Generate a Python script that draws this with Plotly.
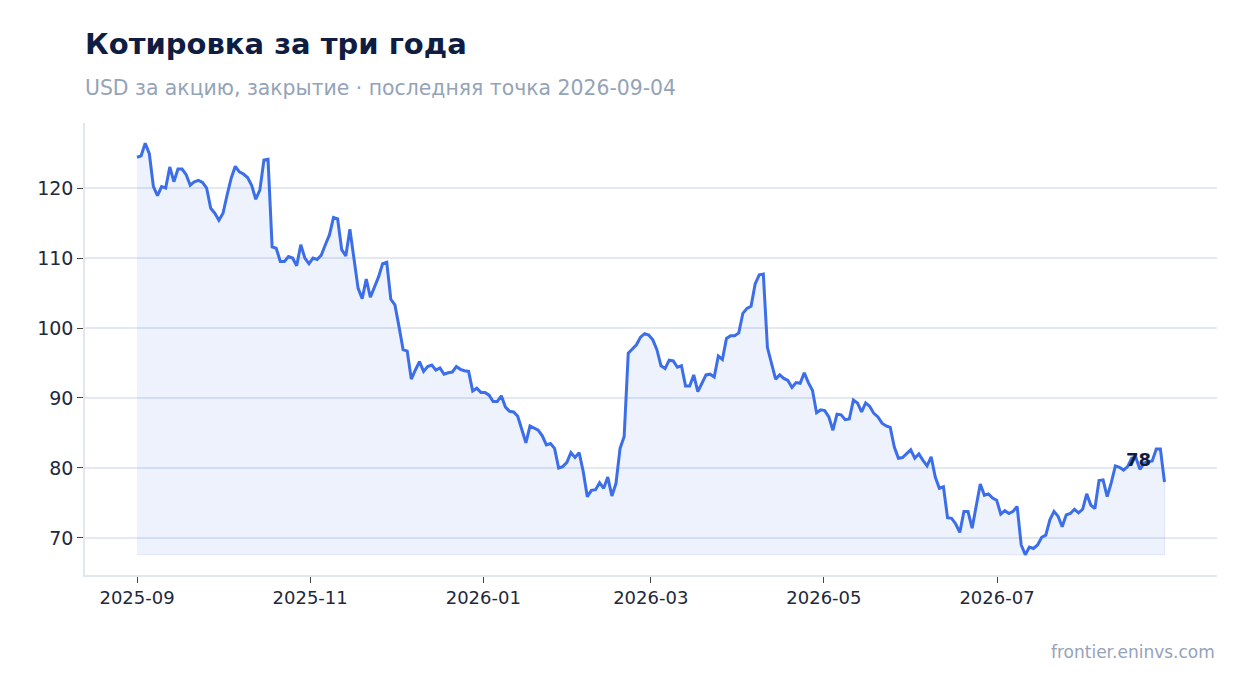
import pandas as pd
import plotly.graph_objects as go

# closing prices, evenly spaced from the first to the last session
first_day = "2025-09-01"
last_day = "2026-08-29"
close = [
    124.4, 124.6, 126.4, 124.9, 120.2, 118.9, 120.2, 120.0, 123.0, 120.9,
    122.7, 122.7, 121.9, 120.4, 120.9, 121.1, 120.8, 120.0, 117.1, 116.4,
    115.4, 116.4, 119.0, 121.4, 123.1, 122.3, 122.0, 121.5, 120.4, 118.4,
    119.7, 124.0, 124.1, 111.6, 111.4, 109.5, 109.5, 110.2, 110.0, 108.9,
    111.9, 110.0, 109.2, 110.0, 109.8, 110.4, 111.9, 113.3, 115.8, 115.6,
    111.2, 110.3, 114.1, 110.2, 105.7, 104.2, 107.0, 104.4, 105.9, 107.3,
    109.2, 109.4, 104.1, 103.3, 100.2, 96.9, 96.7, 92.7, 94.0, 95.2,
    93.8, 94.5, 94.7, 94.0, 94.3, 93.4, 93.6, 93.7, 94.5, 94.1,
    93.9, 93.8, 91.0, 91.4, 90.8, 90.8, 90.4, 89.5, 89.5, 90.3,
    88.7, 88.1, 88.0, 87.4, 85.5, 83.6, 86.0, 85.7, 85.4, 84.6,
    83.3, 83.5, 82.8, 80.0, 80.2, 80.8, 82.2, 81.5, 82.2, 79.5,
    75.9, 76.8, 76.9, 77.9, 77.1, 78.7, 76.0, 77.8, 82.8, 84.5,
    96.4, 97.0, 97.6, 98.7, 99.2, 99.0, 98.3, 96.9, 94.6, 94.2,
    95.4, 95.3, 94.4, 94.6, 91.7, 91.7, 93.3, 90.9, 92.2, 93.3,
    93.4, 93.0, 96.0, 95.5, 98.5, 98.9, 98.9, 99.3, 102.1, 102.8,
    103.1, 106.3, 107.6, 107.7, 97.2, 94.9, 92.7, 93.3, 92.8, 92.5,
    91.5, 92.2, 92.1, 93.6, 92.2, 91.1, 87.9, 88.3, 88.2, 87.3,
    85.4, 87.7, 87.6, 86.9, 87.0, 89.7, 89.3, 88.0, 89.3, 88.8,
    87.8, 87.3, 86.4, 86.0, 85.8, 83.0, 81.4, 81.5, 82.1, 82.6,
    81.4, 82.0, 81.1, 80.3, 81.6, 78.7, 77.1, 77.3, 72.9, 72.8,
    72.0, 70.8, 73.8, 73.8, 71.4, 74.5, 77.7, 76.1, 76.3, 75.7,
    75.4, 73.4, 73.9, 73.5, 73.8, 74.5, 69.0, 67.6, 68.7, 68.5,
    69.0, 70.1, 70.4, 72.6, 73.8, 73.1, 71.6, 73.3, 73.5, 74.1,
    73.6, 74.1, 76.3, 74.7, 74.2, 78.2, 78.3, 75.9, 77.9, 80.3,
    80.1, 79.7, 80.2, 81.4, 81.5, 79.8, 80.7, 80.9, 81.0, 82.7,
    82.7, 78.0,
]
y_ticks = [70, 80, 90, 100, 110, 120]
x_ticks = ["2025-09-01", "2025-11-01", "2026-01-01",
           "2026-03-01", "2026-05-01", "2026-07-01"]

dates = pd.date_range(first_day, last_day, periods=len(close))
floor = min(close)

LINE = "#3b6ee8"
NAVY = "#0f1d42"
GREY = "#94a3b8"
FONT = "DejaVu Sans"

fig = go.Figure()

# shaded area down to the lowest close
fig.add_trace(go.Scatter(
    x=list(dates) + list(dates[::-1]),
    y=close + [floor] * len(close),
    fill="toself",
    fillcolor="rgba(59,110,232,0.09)",
    line=dict(color="rgba(59,110,232,0.12)", width=1),
    hoverinfo="skip",
    showlegend=False,
))

fig.add_trace(go.Scatter(
    x=dates, y=close,
    mode="lines",
    line=dict(color=LINE, width=3),
    showlegend=False,
))

fig.add_annotation(
    x=dates[-1], y=close[-1],
    text=f"<b>{close[-1]:.0f}</b>",
    showarrow=False,
    xanchor="right", yanchor="bottom",
    xshift=-11, yshift=10,
    font=dict(family=FONT, size=18, color=NAVY),
)

fig.add_annotation(
    xref="paper", yref="paper", x=0, y=1.175, xshift=-2,
    text="<b>Котировка за три года</b>",
    showarrow=False, xanchor="left", yanchor="middle",
    font=dict(family=FONT, size=29, color=NAVY),
)
fig.add_annotation(
    xref="paper", yref="paper", x=0, y=1.077, xshift=-2,
    text="USD за акцию, закрытие · последняя точка 2026-09-04",
    showarrow=False, xanchor="left", yanchor="middle",
    font=dict(family=FONT, size=20.4, color=GREY),
)
fig.add_annotation(
    xref="paper", yref="paper", x=1, y=-0.17,
    text="frontier.eninvs.com",
    showarrow=False, xanchor="right", yanchor="middle",
    font=dict(family=FONT, size=17, color=GREY),
)

fig.update_xaxes(
    type="date",
    range=["2025-08-13 16:00", "2026-09-16 12:00"],
    tickvals=x_ticks, tickformat="%Y-%m",
    showgrid=False,
    showline=True, linecolor="#e2e6ef", linewidth=1.5,
    ticks="outside", ticklen=6, tickcolor="#444",
    tickfont=dict(family=FONT, size=18, color="#1e293b"),
)
fig.update_yaxes(
    range=[64.71, 129.29],
    tickvals=y_ticks,
    showgrid=True, gridcolor="#e3e8f3", gridwidth=1.5,
    zeroline=False,
    showline=True, linecolor="#e2e6ef", linewidth=1.5,
    ticks="outside", ticklen=6, tickcolor="#444",
    tickfont=dict(family=FONT, size=19, color="#1e293b"),
)

# the page adds 8px around the figure, so the figure is drawn 8px smaller
fig.update_layout(
    width=1239, height=685,
    margin=dict(l=77, r=30, t=115, b=118),
    paper_bgcolor="white", plot_bgcolor="white",
    font=dict(family=FONT),
    showlegend=False,
)

fig.write_html("out.html")
